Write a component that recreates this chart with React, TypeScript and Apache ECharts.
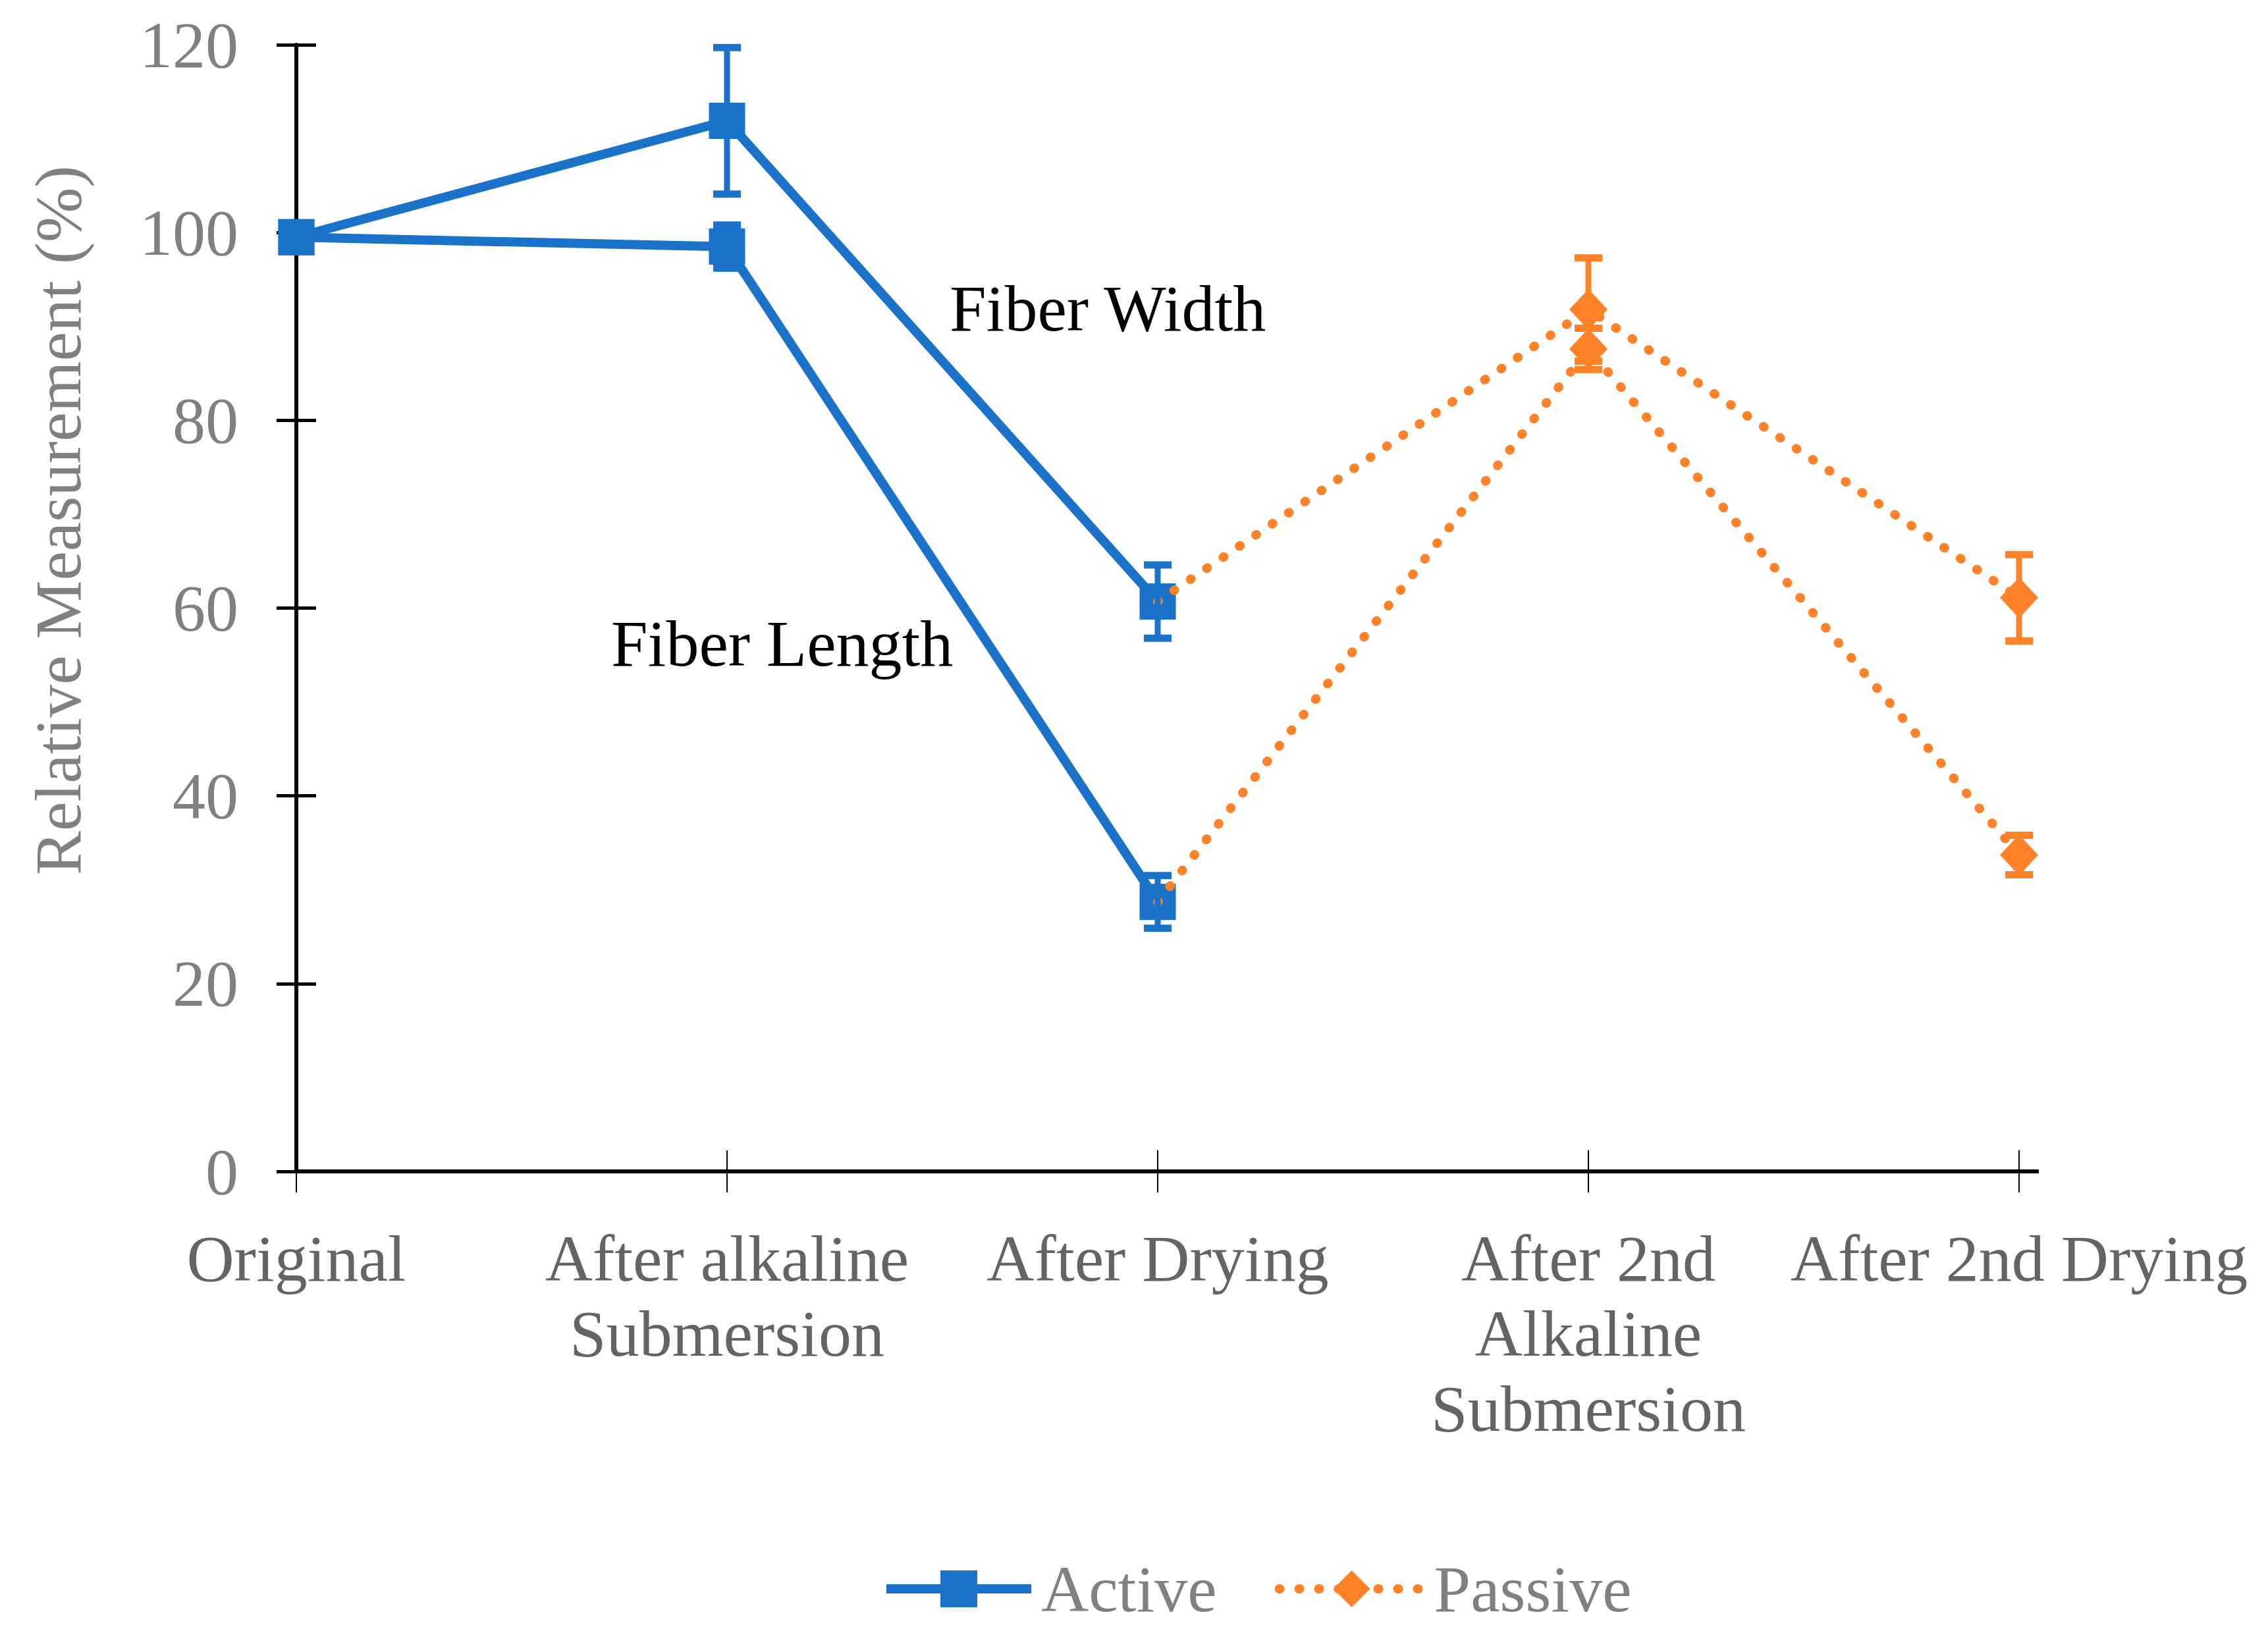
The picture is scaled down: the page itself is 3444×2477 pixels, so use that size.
import React, { useEffect, useRef } from 'react';
import * as echarts from 'echarts';

const categories = [
  'Original',
  'After alkaline\nSubmersion',
  'After Drying',
  'After 2nd\nAlkaline\nSubmersion',
  'After 2nd Drying',
];

const activeWidth = [99.5, 111.9, 60.7, null, null];
const activeWidthErr = [0, 7.8, 3.9, null, null];
const activeLength = [99.5, 98.5, 28.7, null, null];
const activeLengthErr = [0, 2.3, 2.8, null, null];

const passiveWidth = [null, null, 60.7, 91.8, 61.1];
const passiveWidthErr = [null, null, null, 5.5, 4.6];
const passiveLength = [null, null, 28.7, 87.6, 33.7];
const passiveLengthErr = [null, null, null, 2.2, 2.1];
const passiveStartIndex = 2;

const yMin = 0;
const yMax = 120;
const yInterval = 20;

const BLUE = '#1a73c8';
const ORANGE = '#ff8128';
const FONT = "'Liberation Serif', 'Times New Roman', serif";
const DOT_DASH = [1, 29];

function errData(vals: (number | null)[], errs: (number | null)[]) {
  const out: number[][] = [];
  vals.forEach((v, i) => {
    const e = errs[i];
    if (v != null && e != null && e > 0) out.push([i, v - e, v + e]);
  });
  return out;
}

function errSeries(name: string, color: string, data: number[][]) {
  return {
    name,
    type: 'custom',
    xAxisIndex: 0,
    yAxisIndex: 0,
    z: 5,
    encode: { x: 0, y: [1, 2] },
    data,
    renderItem: (params: any, api: any) => {
      const x = api.value(0);
      const lo = api.coord([x, api.value(1)]);
      const hi = api.coord([x, api.value(2)]);
      const cw = 21;
      return {
        type: 'group',
        children: [
          { type: 'line', shape: { x1: lo[0], y1: lo[1], x2: hi[0], y2: hi[1] }, style: { stroke: color, lineWidth: 9 } },
          { type: 'line', shape: { x1: lo[0] - cw, y1: lo[1], x2: lo[0] + cw, y2: lo[1] }, style: { stroke: color, lineWidth: 11 } },
          { type: 'line', shape: { x1: hi[0] - cw, y1: hi[1], x2: hi[0] + cw, y2: hi[1] }, style: { stroke: color, lineWidth: 11 } },
        ],
      };
    },
  };
}

function passiveData(vals: (number | null)[]) {
  return vals.map((v, i) => (i === passiveStartIndex ? { value: v, symbol: 'none' } : v));
}

export default function App() {
  const ref = useRef<HTMLDivElement>(null);
  useEffect(() => {
    if (!ref.current) return;
    const chart = echarts.init(ref.current, undefined, { renderer: 'svg' });

    const activeLine = {
      type: 'line',
      name: 'Active',
      xAxisIndex: 0,
      yAxisIndex: 0,
      symbol: 'rect',
      symbolSize: 55,
      z: 3,
      lineStyle: { color: BLUE, width: 14 },
      itemStyle: { color: BLUE },
    };
    const passiveLine = {
      type: 'line',
      name: 'Passive',
      xAxisIndex: 0,
      yAxisIndex: 0,
      symbol: 'diamond',
      symbolSize: [58, 62],
      z: 4,
      lineStyle: { color: ORANGE, width: 14, type: DOT_DASH, cap: 'round' },
      itemStyle: { color: ORANGE },
    };

    const xCommon = {
      type: 'category',
      data: categories,
      boundaryGap: false,
      position: 'bottom',
    };
    const yCommon = {
      type: 'value',
      min: yMin,
      max: yMax,
      interval: yInterval,
      position: 'left',
      splitLine: { show: false },
    };

    chart.setOption({
      animation: false,
      backgroundColor: '#ffffff',
      grid: { left: 450, right: 378, top: 68, bottom: 698, containLabel: false },
      xAxis: [
        {
          ...xCommon,
          axisLine: { show: true, lineStyle: { color: '#000', width: 6 } },
          axisTick: { show: true, length: 32, lineStyle: { color: '#000', width: 2 } },
          axisLabel: {
            interval: 0,
            margin: 75,
            fontSize: 100,
            lineHeight: 114,
            fontFamily: FONT,
            color: '#646464',
          },
        },
        {
          ...xCommon,
          axisLine: { show: false },
          axisTick: { show: true, inside: true, length: 32, lineStyle: { color: '#000', width: 2 } },
          axisLabel: { show: false },
        },
      ],
      yAxis: [
        {
          ...yCommon,
          axisLine: { show: true, lineStyle: { color: '#000', width: 6 } },
          axisTick: { show: true, length: 30, lineStyle: { color: '#000', width: 5 } },
          axisLabel: { margin: 88, fontSize: 100, fontFamily: FONT, color: '#808080' },
        },
        {
          ...yCommon,
          axisLine: { show: false },
          axisTick: { show: true, inside: true, length: 30, lineStyle: { color: '#000', width: 5 } },
          axisLabel: { show: false },
        },
      ],
      legend: {
        data: [
          { name: 'Active', lineStyle: { color: BLUE, width: 14 } },
          { name: 'Passive', lineStyle: { color: ORANGE, width: 14, type: DOT_DASH, cap: 'round' } },
        ],
        left: 1334,
        top: 2358,
        itemWidth: 220,
        itemHeight: 70,
        itemGap: 88,
        textStyle: { fontFamily: FONT, fontSize: 100, color: '#808080', padding: [0, 0, 0, 10] },
      },
      graphic: [
        {
          type: 'text',
          x: 88,
          y: 790,
          rotation: Math.PI / 2,
          style: {
            text: 'Relative Measurement (%)',
            fontFamily: FONT,
            fontSize: 100,
            fill: '#808080',
            align: 'center',
            verticalAlign: 'middle',
          },
        },
        {
          type: 'text',
          x: 1442,
          y: 468,
          style: { text: 'Fiber Width', fontFamily: FONT, fontSize: 100, fill: '#000', align: 'left', verticalAlign: 'middle' },
        },
        {
          type: 'text',
          x: 928,
          y: 977,
          style: { text: 'Fiber Length', fontFamily: FONT, fontSize: 100, fill: '#000', align: 'left', verticalAlign: 'middle' },
        },
        {
          type: 'line',
          shape: { x1: 3063, y1: 1779, x2: 3096, y2: 1779 },
          style: { stroke: '#000', lineWidth: 6 },
        },
      ],
      series: [
        { ...activeLine, data: activeWidth },
        { ...activeLine, data: activeLength },
        { ...passiveLine, data: passiveData(passiveWidth) },
        { ...passiveLine, data: passiveData(passiveLength) },
        errSeries('errActiveWidth', BLUE, errData(activeWidth, activeWidthErr)),
        errSeries('errActiveLength', BLUE, errData(activeLength, activeLengthErr)),
        errSeries('errPassiveWidth', ORANGE, errData(passiveWidth, passiveWidthErr)),
        errSeries('errPassiveLength', ORANGE, errData(passiveLength, passiveLengthErr)),
      ],
    });

    return () => chart.dispose();
  }, []);

  return (
    <div
      ref={ref}
      style={{ position: 'fixed', left: 0, top: 0, width: 3444, height: 2477, background: '#fff' }}
    />
  );
}
